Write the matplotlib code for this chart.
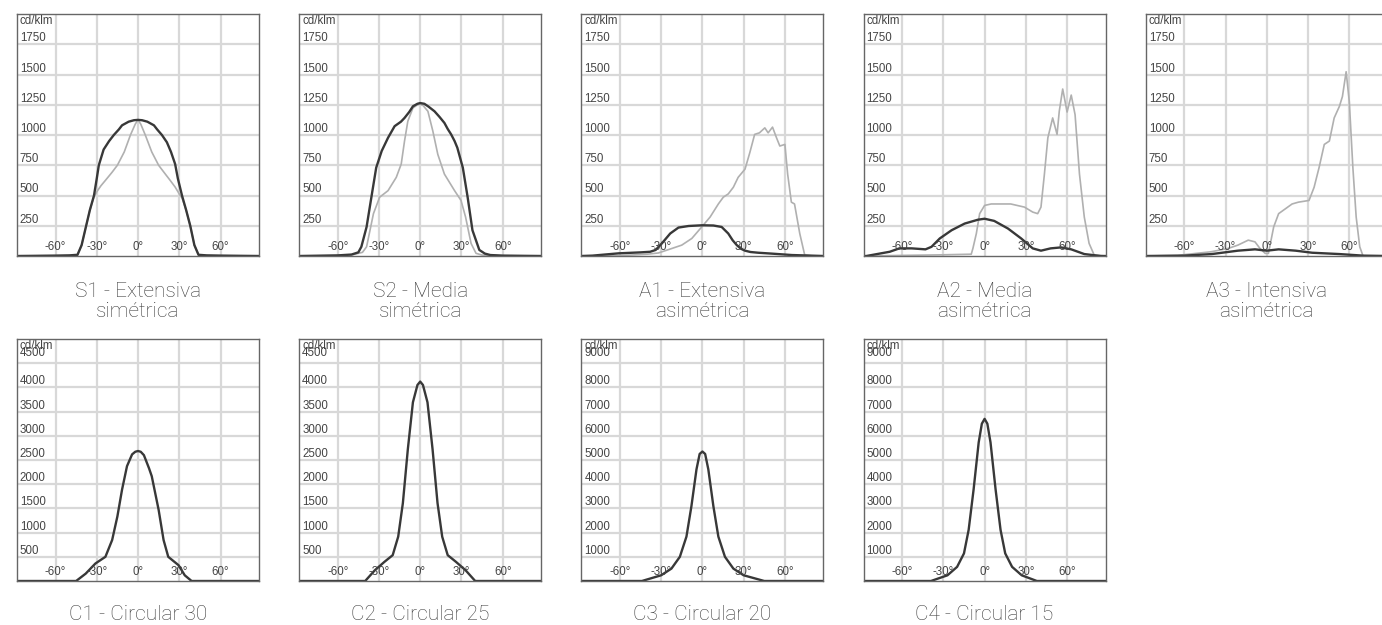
import matplotlib.pyplot as plt
from matplotlib.transforms import blended_transform_factory

# titulos de cada panel
titles = ['S1 - Extensiva\nsimétrica', 'S2 - Media\nsimétrica', 'A1 - Extensiva\nasimétrica',
          'A2 - Media\nasimétrica', 'A3 - Intensiva\nasimétrica',
          'C1 - Circular 30', 'C2 - Circular 25', 'C3 - Circular 20', 'C4 - Circular 15']
xTicks = [-60, -30, 0, 30, 60]
xTickLabels = ['-60°', '-30°', '0°', '30°', '60°']
yTicksA = [250, 500, 750, 1000, 1250, 1500, 1750]
yTicksB = [500, 1000, 1500, 2000, 2500, 3000, 3500, 4000, 4500]
yTicksC = [1000, 2000, 3000, 4000, 5000, 6000, 7000, 8000, 9000]
yMax = [2000, 2000, 2000, 2000, 2000, 5000, 5000, 10000, 10000]

# curvas (angulo en grados, cd/klm)
s1Ang = [-88, -60, -50, -44, -41, -37.7, -35, -32, -30, -28.5, -25, -21, -17.6, -14, -11.6, -6.8, -3, 0,
         3, 6.8, 11.6, 14, 17.4, 21, 24, 27, 29, 32, 35, 38, 41, 44, 50, 60, 88]
s1Dark = [0, 3, 5, 10, 90, 250, 380, 500, 640, 750, 880, 950, 1000, 1045, 1080, 1110, 1122, 1125,
          1122, 1110, 1080, 1045, 1000, 940, 860, 760, 640, 500, 380, 250, 90, 10, 5, 3, 0]
s1LightAng = [-88, -60, -50, -44, -41, -37.7, -35, -32, -30, -27, -23.7, -19, -15, -10, -5.5, -2, 0,
              2, 5.3, 10, 15, 19, 23.4, 27, 30.7, 32, 35, 38, 41, 44, 50, 60, 88]
s1Light = [0, 3, 5, 10, 90, 250, 380, 490, 530, 580, 625, 690, 750, 860, 1000, 1090, 1125,
           1090, 1000, 860, 750, 690, 625, 570, 500, 480, 380, 250, 90, 10, 5, 3, 0]

s2Ang = [-88, -60, -50, -45, -42.8, -39, -35.5, -32, -28, -23.4, -18.6, -14, -11.4, -8, -5.3, -2, 0,
         3, 6, 10.4, 14, 17.6, 20, 22.5, 25, 27, 31, 34.5, 38, 43, 47, 51, 60, 88]
s2Dark = [0, 5, 12, 30, 76, 240, 486, 730, 868, 977, 1073, 1110, 1141, 1190, 1237, 1258, 1264,
          1258, 1235, 1196, 1150, 1100, 1050, 1005, 950, 895, 730, 486, 213, 50, 20, 8, 3, 0]
s2LightAng = [-88, -60, -50, -42, -39, -34, -29.5, -23.4, -17.4, -13.8, -11.4, -9, -5.3, -2, 0,
              2, 5.6, 9.2, 12.8, 17.6, 25, 29.7, 33, 37, 40.6, 45, 60, 88]
s2Light = [0, 3, 8, 30, 76, 350, 486, 540, 650, 760, 950, 1114, 1223, 1250, 1255,
           1245, 1196, 1032, 840, 677, 540, 459, 322, 104, 22, 8, 3, 0]

a1Ang = [-88, -80, -61, -45, -38, -34, -29.5, -23.4, -17.4, -10, 0, 8, 14, 18.8, 22, 25, 28, 31, 35,
         40.6, 50, 65, 88]
a1Dark = [0, 3, 22, 30, 35, 50, 104, 186, 235, 248, 254, 252, 240, 186, 130, 90, 60, 44, 33,
          27, 20, 8, 0]
a1LightAng = [-88, -60, -40, -32, -22, -15, -7.7, -0.5, 5.6, 11.6, 15.2, 18.8, 22.5, 26, 31, 34.5, 38,
              41.5, 45.4, 47.8, 51, 53.9, 56.3, 60, 62, 64.7, 67, 70.8, 74.4, 80, 88]
a1Light = [0, 3, 15, 25, 63, 90, 145, 240, 322, 430, 486, 513, 568, 650, 718, 855, 1005,
           1018, 1059, 1018, 1065, 977, 909, 922, 677, 445, 430, 186, 8, 0, 0]

a2Ang = [-88, -86, -69, -62, -53, -43, -38.6, -32.6, -24, -14.5, -4.8, 0, 7, 17, 26.6, 35, 41, 48,
         55.6, 63, 72.5, 84.5, 88]
a2Dark = [0, 0, 35, 63, 63, 55, 76, 145, 213, 268, 300, 308, 290, 227, 145, 63, 44, 63,
          71, 55, 16, 0, 0]
a2LightAng = [-88, -60, -30, -9.7, -8.5, -6, -3.6, 0, 4.8, 19, 29, 35, 38.6, 41, 43.5, 46, 49.5, 52.7,
              54.3, 56.8, 60, 63, 65.8, 69, 72.5, 76, 79.7, 88]
a2Light = [0, 5, 10, 15, 63, 186, 350, 418, 430, 430, 404, 363, 350, 404, 677, 977, 1141, 1005,
           1196, 1380, 1190, 1330, 1168, 677, 322, 104, 8, 0]

a3Ang = [-88, -60, -40, -21, -8.6, 0, 8.6, 21, 33, 52.8, 70, 88]
a3Dark = [0, 3, 16, 44, 55, 44, 55, 44, 27, 16, 3, 0]
a3LightAng = [-88, -65, -40.5, -28, -21, -13.5, -8.6, -5, -1.2, 1.2, 5, 8.6, 13.5, 18.4, 23, 30.7, 34.4,
              38, 41.8, 45.5, 49, 52.8, 55, 57.7, 60, 62.6, 65, 67.6, 70, 88]
a3Light = [0, 5, 35, 63, 90, 131, 117, 63, 22, 22, 240, 350, 390, 430, 445, 459, 568,
           730, 922, 950, 1141, 1237, 1318, 1523, 1277, 730, 322, 76, 0, 0]

c1Ang = [-88, -45, -38, -31, -23.7, -18.8, -15, -11.6, -8, -4.3, -2, 0, 2, 4.3, 8, 10, 15, 18.6, 22,
         29.5, 34, 39, 88]
c1Val = [0, 0, 153, 361, 500, 847, 1333, 1888, 2373, 2616, 2670, 2686, 2670, 2600, 2330, 2165, 1471, 847, 500,
         326, 118, 0, 0]
c2Ang = [-88, -40, -33, -26, -20, -16, -12.6, -9, -5.3, -2, 0, 2, 5.3, 9, 12.6, 16, 20, 26, 33, 40, 88]
c2Val = [0, 0, 222, 396, 534, 916, 1610, 2720, 3692, 4050, 4120, 4050, 3692, 2720, 1610, 916, 534, 396, 222, 0, 0]
c3Ang = [-88, -44, -30, -22.5, -16.4, -11.6, -8, -4.3, -2, 0, 2, 4.3, 8, 11.6, 16.4, 22.5, 30, 45, 88]
c3Val = [0, 0, 236, 514, 1000, 1835, 3086, 4615, 5250, 5350, 5250, 4615, 3086, 1835, 1000, 514, 236, 0, 0]
c4Ang = [-88, -39, -27, -20, -15, -11.6, -8, -4.3, -2, 0, 2, 4.3, 8, 11.6, 15, 20, 27, 38, 88]
c4Val = [0, 0, 236, 584, 1140, 2113, 3780, 5727, 6500, 6700, 6500, 5727, 3780, 2113, 1140, 584, 236, 0, 0]

darkCurves = [(s1Ang, s1Dark), (s2Ang, s2Dark), (a1Ang, a1Dark), (a2Ang, a2Dark), (a3Ang, a3Dark),
              (c1Ang, c1Val), (c2Ang, c2Val), (c3Ang, c3Val), (c4Ang, c4Val)]
lightCurves = [(s1LightAng, s1Light), (s2LightAng, s2Light), (a1LightAng, a1Light),
               (a2LightAng, a2Light), (a3LightAng, a3Light), None, None, None, None]
yTicksAll = [yTicksA] * 5 + [yTicksB, yTicksB, yTicksC, yTicksC]

W, H = 1382, 625
fig = plt.figure(figsize=(W / 100, H / 100), dpi=100, facecolor='white')
tickFont = dict(family=['Liberation Sans', 'DejaVu Sans'], size=8.3, color='#444444')
titleFont = dict(family=['Roboto', 'DejaVu Sans'], weight='light', size=15, color='#3a3a3a')

for i in range(9):
    row = 0 if i < 5 else 1
    col = i if i < 5 else i - 5
    x0 = 17 + 282.2 * col
    top = 14 if row == 0 else 339
    ax = fig.add_axes([x0 / W, (H - top - 242) / H, 242 / W, 242 / H])
    ax.set_xlim(-88, 88)
    ax.set_ylim(0, yMax[i])
    ax.set_xticks(xTicks)
    ax.set_yticks(yTicksAll[i])
    ax.grid(True, color='#d8d8d8', lw=1.6)
    ax.set_axisbelow(True)
    ax.tick_params(length=0, labelleft=False, labelbottom=False)
    for s in ax.spines.values():
        s.set_color('#666666')
        s.set_linewidth(1.0)

    # textos de los ejes dentro del recuadro
    ty = blended_transform_factory(ax.transAxes, ax.transData)
    tx = blended_transform_factory(ax.transData, ax.transAxes)
    for j, v in enumerate(yTicksAll[i]):
        if row == 1 and j == len(yTicksAll[i]) - 1:
            # la etiqueta superior va pegada bajo "cd/klm", como en el original
            ax.text(0.012, 0.965, str(v), transform=ax.transAxes, va='top', ha='left', **tickFont)
        else:
            ax.text(0.012, v, str(v), transform=ty, va='bottom', ha='left', **tickFont)
    ax.text(0.012, 0.997, 'cd/klm', transform=ax.transAxes, va='top', ha='left', **tickFont)
    for v, lab in zip(xTicks, xTickLabels):
        ax.text(v, 0.012, lab, transform=tx, va='bottom', ha='center', **tickFont)

    if lightCurves[i] is not None:
        ax.plot(lightCurves[i][0], lightCurves[i][1], color='#b0b0b0', lw=1.2)
    ax.plot(darkCurves[i][0], darkCurves[i][1], color='#383838', lw=1.7)

    yc = 301.5 if row == 0 else 614
    fig.text((x0 + 121) / W, 1 - yc / H, titles[i], ha='center', va='center',
             linespacing=1.05, **titleFont)

fig.savefig('out.png', dpi=100, facecolor='white')
